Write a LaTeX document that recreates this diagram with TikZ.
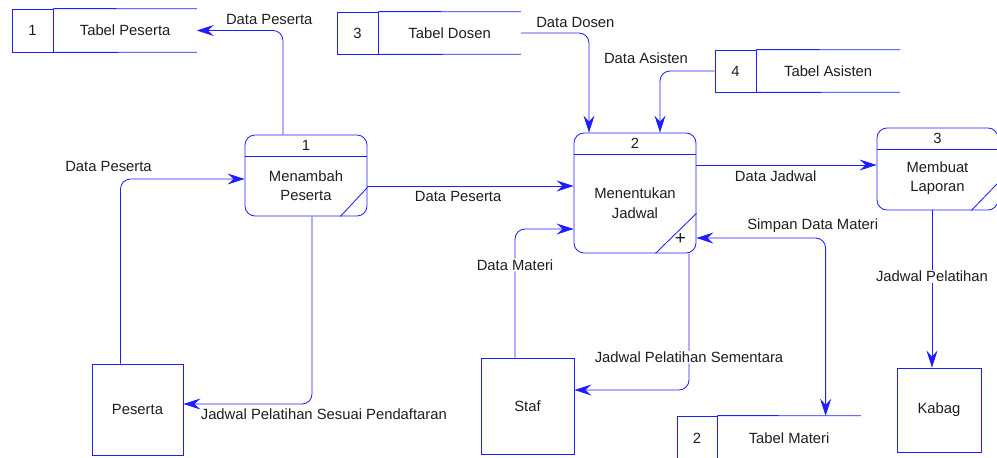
\documentclass[tikz,border=0pt]{standalone}
\usepackage{fontspec}
\setmainfont{Liberation Sans}
\usetikzlibrary{positioning,arrows.meta}
\definecolor{dfdblue}{RGB}{30,30,255}
\definecolor{dfdtext}{RGB}{30,30,30}
\tikzset{
	>={Stealth[length=17pt,width=11pt,inset=6pt]}, % arrow heads of the data flows
	every node/.style={font=\fontsize{14.8}{19.5}\selectfont, text=dfdtext},
	flow/.style={->, draw=dfdblue, line width=0.85pt, rounded corners=10pt}, % data flow
	edgeline/.style={draw=dfdblue, line width=0.85pt}, % plain outline
	proc/.style={edgeline, rounded corners=10pt, minimum width=122pt}, % process box
	entity/.style={edgeline, inner sep=0pt}, % external entity
	storeno/.style={edgeline, minimum width=41pt, inner sep=0pt}, % number cell of a store
	storename/.style={minimum width=143pt, inner sep=0pt}, % open part of a store
	lbl/.style={inner sep=1pt}, % flow label
}

\begin{document}
\begin{tikzpicture}[x=1pt,y=-1pt]
	\useasboundingbox (0,0) rectangle (997,458);

	% processes
	\node[proc, minimum height=81pt] (p1) at (306,175.5) {};
	\draw[edgeline] ([yshift=-22]p1.north west) -- ([yshift=-22]p1.north east);
	\node (p1no) at ([yshift=-11]p1.north) {1};
	\node[align=center] (p1txt) at ([yshift=-10]p1.center) {Menambah\\Peserta};
	\draw[edgeline] ([xshift=-27]p1.south east) -- ([yshift=29]p1.south east);

	\node[proc, minimum height=120pt] (p2) at (635,193) {};
	\draw[edgeline] ([yshift=-22]p2.north west) -- ([yshift=-22]p2.north east);
	\node (p2no) at ([yshift=-11]p2.north) {2};
	\node[align=center] (p2txt) at ([yshift=-10]p2.center) {Menentukan\\Jadwal};
	\draw[edgeline] ([xshift=-41]p2.south east) -- ([yshift=40]p2.south east);
	\node[inner sep=0pt, font=\fontsize{19}{19}\selectfont] (p2plus) at ([xshift=-16,yshift=14]p2.south east) {+};

	\node[proc, minimum height=82pt, minimum width=121pt] (p3) at (937.5,169) {};
	\draw[edgeline] ([yshift=-22]p3.north west) -- ([yshift=-22]p3.north east);
	\node (p3no) at ([yshift=-11]p3.north) {3};
	\node[align=center] (p3txt) at ([yshift=-9]p3.center) {Membuat\\Laporan};
	\draw[edgeline] ([xshift=-27]p3.south east) -- ([yshift=28]p3.south east);

	% external entities
	\node[entity, minimum width=91pt, minimum height=91pt] (peserta) at (137.5,409.5) {Peserta};
	\node[entity, minimum width=93pt, minimum height=96pt] (staf) at (527.5,406) {Staf};
	\node[entity, minimum width=84pt, minimum height=84pt] (kabag) at (939,410) {Kabag};

	% data stores
	\node[storeno, minimum height=43pt] (s1no) at (32.5,30.5) {1};
	\node[storename, minimum height=43pt, right=0pt of s1no] (s1) {Tabel Peserta};
	\draw[edgeline] (s1no.north east) -- (s1.north east) (s1no.south east) -- (s1.south east);

	\node[storeno, minimum height=42pt] (s3no) at (357.5,33) {3};
	\node[storename, minimum height=42pt, minimum width=142pt, right=0pt of s3no] (s3) {Tabel Dosen};
	\draw[edgeline] (s3no.north east) -- (s3.north east) (s3no.south east) -- (s3.south east);

	\node[storeno, minimum height=42pt] (s4no) at (735.5,71) {4};
	\node[storename, minimum height=42pt, right=0pt of s4no] (s4) {Tabel Asisten};
	\draw[edgeline] (s4no.north east) -- (s4.north east) (s4no.south east) -- (s4.south east);

	\node[storeno, minimum height=44pt, minimum width=40pt] (s2no) at (697,438) {2};
	\node[storename, minimum height=44pt, right=0pt of s2no] (s2) {Tabel Materi};
	\draw[edgeline] (s2no.north east) -- (s2.north east) (s2no.south east) -- (s2.south east);

	% data flows
	\draw[flow] ([xshift=-23]p1.north) |- (s1.east)
		node[lbl, pos=0.58, above=4pt] (l1) {Data Peserta};
	\draw[flow] (s3.east) -| ([xshift=-46]p2.north)
		node[lbl, pos=0.4, above=4pt] (l2) {Data Dosen};
	\draw[flow] (s4no.west) -| ([xshift=25]p2.north)
		node[lbl, pos=0.5, above=6pt, xshift=-14pt] (l3) {Data Asisten};
	\draw[flow] ([xshift=-17]peserta.north) |- ([yshift=-3.5]p1.west)
		node[lbl, pos=0.5, above=6pt, xshift=-12pt] (l4) {Data Peserta};
	\draw[flow] ([xshift=6]p1.south) |- ([yshift=5.5]peserta.east)
		node[lbl, pos=1, anchor=north west, xshift=16pt, yshift=-3pt] (l5) {Jadwal Pelatihan Sesuai Pendaftaran};
	\draw[flow] ([yshift=-10.5]p1.east) -- ([yshift=7]p2.west)
		node[lbl, pos=0.44, below=4pt] (l6) {Data Peserta};
	\draw[flow] ([xshift=-12.5]staf.north) |- ([yshift=-36]p2.west)
		node[lbl, pos=0.36, fill=white] (l7) {Data Materi};
	\draw[flow] ([xshift=54]p2.south) |- ([yshift=16]staf.east)
		node[lbl, pos=0.38, fill=white] (l8) {Jadwal Pelatihan Sementara};
	\draw[flow, <->] ([yshift=-45]p2.east) -| ([xshift=36.5]s2.north)
		node[lbl, pos=0.45, above=4pt] (l9) {Simpan Data Materi};
	\draw[flow] ([yshift=28]p2.east) -- ([yshift=4]p3.west)
		node[lbl, pos=0.44, below=4pt] (l10) {Data Jadwal};
	\draw[flow] ([xshift=-5.5]p3.south) -- ([xshift=-7]kabag.north)
		node[lbl, pos=0.42, fill=white] (l11) {Jadwal Pelatihan};
\end{tikzpicture}
\end{document}
